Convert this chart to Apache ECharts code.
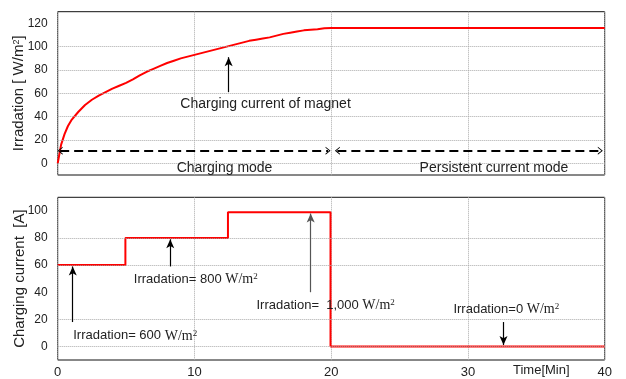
<!DOCTYPE html>
<html><head><meta charset="utf-8">
<script src="https://cdn.jsdelivr.net/npm/echarts@6/dist/echarts.min.js"></script>
<style>html,body{margin:0;padding:0;background:#fff}#c{width:626px;height:379px}</style>
</head><body><div id="c"></div>
<script>
// ---- data ----
const timeTop = [0, 0.25, 0.5, 0.75, 1, 1.5, 2, 2.5, 3, 3.5, 4, 4.5, 5, 5.5, 6, 6.5, 7, 7.5, 8, 8.5, 9, 9.5, 10, 10.5, 11, 11.5, 12, 12.5, 13, 13.5, 14, 14.5, 15, 15.5, 16, 16.5, 17, 17.5, 18, 18.5, 19, 19.5, 20, 40];
const irradiation = [0, 16, 25, 32, 37, 44, 50, 54.5, 58, 61, 64, 66.5, 69, 72, 75.5, 78.5, 81, 83.5, 86, 88, 90, 91.5, 93, 94.5, 96, 97.5, 99, 100.5, 102, 103.5, 105, 106, 107, 108, 109.5, 111, 112, 113, 114, 114.5, 115, 115.8, 116, 116];
const stepTime = [0, 4.95, 12.45, 19.95, 40];
const chargingCurrent = [60, 80, 99, 0, 0];
const xTickLabels = [0, 10, 20, 30, 40];
const topYTickLabels = [0, 20, 40, 60, 80, 100, 120];
const topYGridValues = [0, 20, 40, 60, 80, 100];
const botYTickLabels = [0, 20, 40, 60, 80, 100];
const botYGridValues = [0, 20, 60, 80];
const modeLevel = 10.8;
const chargingModeSpan = [0.18, 19.77];
const persistentModeSpan = [20.45, 39.68];

const SANS = 'Liberation Sans, Arial, sans-serif';
const SERIF = 'Liberation Serif, Times New Roman, serif';
const TXT = '#222';

const chevron = 'path://M0,10 L5,0 L10,10 L8.6,10 L5,2.8 L1.4,10 Z';
const richW = {
  w: { fontFamily: SERIF, fontSize: 14, color: TXT },
  sup: { fontFamily: SERIF, fontSize: 9, color: TXT, verticalAlign: 'top' }
};

function gridLines(values) {
  return {
    silent: true, symbol: 'none', animation: false,
    label: { show: false },
    lineStyle: { type: 'dotted', color: '#aaa', width: 1 },
    data: values.map(v => ({ yAxis: v }))
  };
}
function arrow(x, y1, y2, color) {
  return [
    { coord: [x, y1], symbol: 'none' },
    { coord: [x, y2], symbol: 'arrow', symbolSize: [6, 9], lineStyle: { color: color || '#000', width: 1.2, type: 'solid' } }
  ];
}
function textPt(x, y, text, pos, size) {
  return {
    coord: [x, y],
    label: { show: true, position: pos || 'inside', distance: 0, formatter: text, color: TXT, fontFamily: SANS, fontSize: size || 13, rich: richW }
  };
}

const option = {
  animation: false,
  backgroundColor: '#fff',
  grid: [
    { left: 57.7, right: 21.3, top: 11.7, bottom: 204, show: true, borderColor: '#111', borderWidth: 1, outerBoundsMode: 'none', containLabel: false },
    { left: 57.7, right: 21.3, top: 197.3, bottom: 19, show: true, borderColor: '#111', borderWidth: 1, outerBoundsMode: 'none', containLabel: false }
  ],
  xAxis: [
    { type: 'value', gridIndex: 0, min: 0, max: 40, interval: 10,
      axisLine: { show: false }, axisTick: { show: false }, axisLabel: { show: false },
      splitLine: { show: true, lineStyle: { type: 'dotted', color: '#aaa', width: 1 } } },
    { type: 'value', gridIndex: 1, min: 0, max: 40, interval: 10,
      axisLine: { show: false }, axisTick: { show: false },
      axisLabel: { show: true, margin: 6, color: TXT, fontFamily: SANS, fontSize: 13,
        customValues: xTickLabels },
      splitLine: { show: true, lineStyle: { type: 'dotted', color: '#aaa', width: 1 } } }
  ],
  yAxis: [
    { type: 'value', gridIndex: 0, min: -10, max: 130,
      axisLine: { show: false }, axisTick: { show: false }, splitLine: { show: false },
      axisLabel: { margin: 10, color: TXT, fontFamily: SANS, fontSize: 12, customValues: topYTickLabels },
      name: 'Irradation [ W/m{sup|2}]', nameLocation: 'middle', nameGap: 31, nameMoveOverlap: false,
      nameTextStyle: { color: TXT, fontFamily: SANS, fontSize: 15, rich: { sup: { fontFamily: SANS, fontSize: 9, color: TXT, verticalAlign: 'top' } } } },
    { type: 'value', gridIndex: 1, min: -10, max: 110,
      axisLine: { show: false }, axisTick: { show: false }, splitLine: { show: false },
      axisLabel: { margin: 10, color: TXT, fontFamily: SANS, fontSize: 12, customValues: botYTickLabels },
      name: 'Charging current  [A]', nameLocation: 'middle', nameGap: 30, nameMoveOverlap: false,
      nameTextStyle: { color: TXT, fontFamily: SANS, fontSize: 15 } }
  ],
  series: [
    { type: 'line', xAxisIndex: 0, yAxisIndex: 0, silent: true, data: [], markLine: gridLines(topYGridValues) },
    { type: 'line', xAxisIndex: 1, yAxisIndex: 1, silent: true, data: [], markLine: gridLines(botYGridValues) },
    { name: 'Irradiation', type: 'line', xAxisIndex: 0, yAxisIndex: 0, showSymbol: false, symbol: 'none',
      lineStyle: { color: '#ff0000', width: 2 },
      data: timeTop.map((t, i) => [t, irradiation[i]]) },
    { name: 'Charging current', type: 'line', xAxisIndex: 1, yAxisIndex: 1, step: 'end', showSymbol: false, symbol: 'none',
      lineStyle: { color: '#ff0000', width: 2 },
      data: stepTime.map((t, i) => [t, chargingCurrent[i]]) },
    // top annotations
    { type: 'line', xAxisIndex: 0, yAxisIndex: 0, silent: true, clip: false, data: [],
      markLine: {
        silent: true, animation: false, label: { show: false }, symbol: 'none',
        lineStyle: { color: '#000', width: 2, type: [9, 5] },
        data: [
          [ { coord: [chargingModeSpan[0], modeLevel], symbol: chevron, symbolSize: [8, 5] },
            { coord: [chargingModeSpan[1], modeLevel], symbol: chevron, symbolSize: [8, 5] } ],
          [ { coord: [persistentModeSpan[0], modeLevel], symbol: chevron, symbolSize: [8, 5] },
            { coord: [persistentModeSpan[1], modeLevel], symbol: chevron, symbolSize: [8, 5] } ],
          arrow(12.5, 61, 91)
        ]
      },
      markPoint: {
        symbol: 'circle', symbolSize: 1, itemStyle: { color: 'rgba(0,0,0,0)' }, silent: true, animation: false,
        data: [
          textPt(15.2, 50.8, 'Charging current of magnet', 'inside', 14),
          textPt(12.2, -4, 'Charging mode', 'inside', 14),
          textPt(31.9, -4, 'Persistent current mode', 'inside', 14)
        ]
      }
    },
    // bottom annotations
    { type: 'line', xAxisIndex: 1, yAxisIndex: 1, silent: true, clip: false, data: [],
      markLine: {
        silent: true, animation: false, label: { show: false }, symbol: 'none',
        lineStyle: { color: '#000', width: 1.2 },
        data: [
          arrow(1.1, 18, 59),
          arrow(8.23, 59, 79),
          arrow(18.5, 40, 98, '#555'),
          arrow(32.6, 18, 1)
        ]
      },
      markPoint: {
        symbol: 'circle', symbolSize: 1, itemStyle: { color: 'rgba(0,0,0,0)' }, silent: true, animation: false,
        data: [
          textPt(1.1, 7.8, 'Irradation= 600 {w|W/m}{sup|2}', 'right'),
          textPt(5.53, 49.4, 'Irradation= 800 {w|W/m}{sup|2}', 'right'),
          textPt(14.5, 30.5, 'Irradation=  1,000 {w|W/m}{sup|2}', 'right'),
          textPt(28.9, 27.5, 'Irradation=0 {w|W/m}{sup|2}', 'right')
        ]
      }
    }
  ],
  graphic: [
    { type: 'text', left: 513, top: 364, style: { text: 'Time[Min]', fill: TXT, font: '13px ' + SANS } }
  ]
};

const chart = echarts.init(document.getElementById('c'), null, { renderer: 'canvas' });
chart.setOption(option);
</script>
</body></html>
